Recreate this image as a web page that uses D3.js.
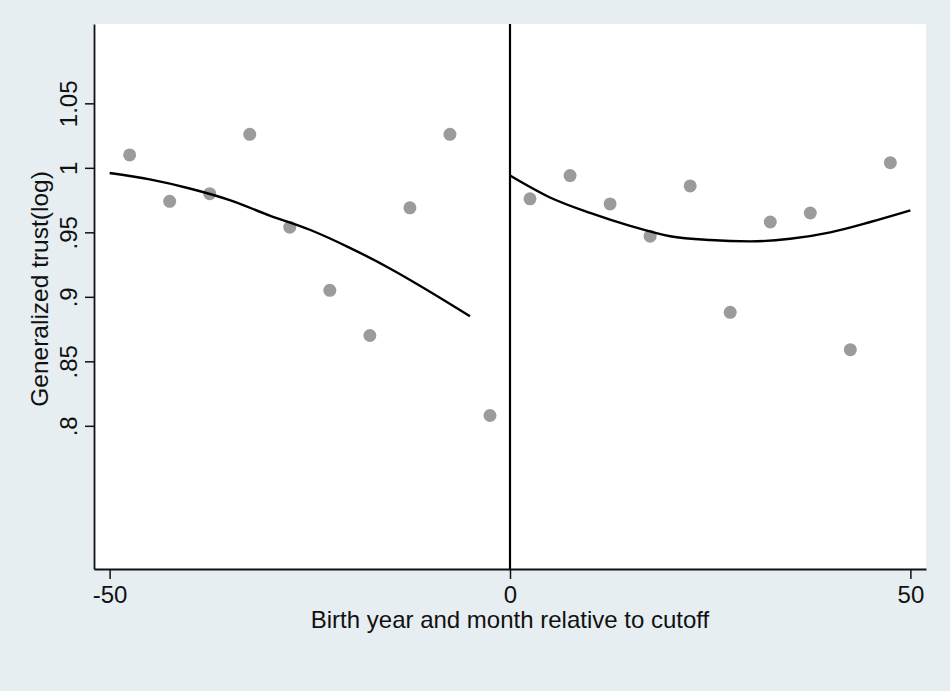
<!DOCTYPE html>
<html>
<head>
<meta charset="utf-8">
<script src="https://cdn.jsdelivr.net/npm/d3@7"></script>
<style>
  html, body { margin: 0; padding: 0; background: #e7eef1; }
  svg { display: block; }
  text { font-family: "Liberation Sans", Arial, sans-serif; fill: #111; }
</style>
</head>
<body>
<svg id="chart" width="950" height="691"></svg>
<script>
// ---- data ----
const leftX  = [-47.5, -42.5, -37.5, -32.5, -27.5, -22.5, -17.5, -12.5, -7.5, -2.5];
const leftY  = [1.010, 0.974, 0.980, 1.026, 0.954, 0.905, 0.870, 0.969, 1.026, 0.808];
const rightX = [2.5, 7.5, 12.5, 17.5, 22.5, 27.5, 32.5, 37.5, 42.5, 47.5];
const rightY = [0.976, 0.994, 0.972, 0.947, 0.986, 0.888, 0.958, 0.965, 0.859, 1.004];

// fitted curves
const leftFitX  = [-50, -45, -40, -35, -30, -25, -20, -15, -10, -5];
const leftFitY  = [0.996, 0.991, 0.984, 0.975, 0.963, 0.952, 0.938, 0.922, 0.904, 0.885];
const rightFitX = [0, 5, 10, 15, 20, 25, 30, 35, 40, 45, 50];
const rightFitY = [0.994, 0.977, 0.965, 0.955, 0.947, 0.944, 0.943, 0.945, 0.950, 0.958, 0.967];

const xTicks = [-50, 0, 50];
const yTicks = [0.8, 0.85, 0.9, 0.95, 1, 1.05];
const xTitle = "Birth year and month relative to cutoff";
const yTitle = "Generalized trust(log)";
const cutoff = 0;

// ---- layout ----
const svg = d3.select("#chart");
const L = 94, R = 926, T = 24, B = 569;
const x = d3.scaleLinear().domain([-51.95, 51.95]).range([L, R]);
const y = d3.scaleLinear().domain([0.689, 1.1115]).range([B, T]);
const FS = 24;

svg.append("rect").attr("x", 0).attr("y", 0).attr("width", 950).attr("height", 691).attr("fill", "#e7eef1");
svg.append("rect").attr("x", L).attr("y", T).attr("width", R - L).attr("height", B - T).attr("fill", "#ffffff");

// cutoff line
svg.append("line")
  .attr("x1", x(cutoff)).attr("x2", x(cutoff))
  .attr("y1", T).attr("y2", B)
  .attr("stroke", "#000").attr("stroke-width", 2.2);

// points
const ptsL = leftX.map((d, i) => [d, leftY[i]]);
const ptsR = rightX.map((d, i) => [d, rightY[i]]);
svg.append("g").selectAll("circle").data(ptsL.concat(ptsR)).join("circle")
  .attr("cx", d => x(d[0])).attr("cy", d => y(d[1])).attr("r", 6.5)
  .attr("fill", "#9b9b9b");

// fitted curves
const line = d3.line().x(d => x(d[0])).y(d => y(d[1])).curve(d3.curveMonotoneX);
[[leftFitX, leftFitY], [rightFitX, rightFitY]].forEach(([xs, ys]) => {
  svg.append("path")
    .datum(xs.map((d, i) => [d, ys[i]]))
    .attr("d", line)
    .attr("fill", "none").attr("stroke", "#000").attr("stroke-width", 2.4);
});

// x axis
const gx = svg.append("g").attr("transform", `translate(0,${B})`)
  .call(d3.axisBottom(x).tickValues(xTicks).tickSize(10).tickSizeOuter(0).tickFormat(d => String(d)));
gx.select(".domain").attr("stroke", "#111").attr("stroke-width", 1.8);
gx.selectAll(".tick line").attr("stroke", "#111").attr("stroke-width", 1.5);
gx.selectAll(".tick text").attr("font-size", FS).attr("fill", "#111")
  .attr("font-family", '"Liberation Sans", Arial, sans-serif')
  .attr("y", 0).attr("dy", 0).attr("transform", "translate(0,34)");

// y axis
const fmtY = d => d === 1 ? "1" : (d3.format(".2~f")(d)).replace(/^0/, "");
const gy = svg.append("g").attr("transform", `translate(${L},0)`)
  .call(d3.axisLeft(y).tickValues(yTicks).tickSize(9).tickSizeOuter(0).tickFormat(fmtY));
gy.select(".domain").attr("stroke", "#111").attr("stroke-width", 1.8);
gy.selectAll(".tick line").attr("stroke", "#111").attr("stroke-width", 1.5);
gy.selectAll(".tick text").attr("font-size", FS).attr("fill", "#111")
  .attr("font-family", '"Liberation Sans", Arial, sans-serif')
  .attr("text-anchor", "middle")
  .attr("x", 0).attr("y", -17).attr("dy", 0)
  .attr("transform", "rotate(-90)");

// titles
svg.append("text").attr("x", (L + R) / 2).attr("y", 628)
  .attr("text-anchor", "middle").attr("font-size", FS).text(xTitle);
svg.append("text").attr("transform", `translate(48,289) rotate(-90)`)
  .attr("text-anchor", "middle").attr("font-size", 24.5).text(yTitle);
</script>
</body>
</html>
